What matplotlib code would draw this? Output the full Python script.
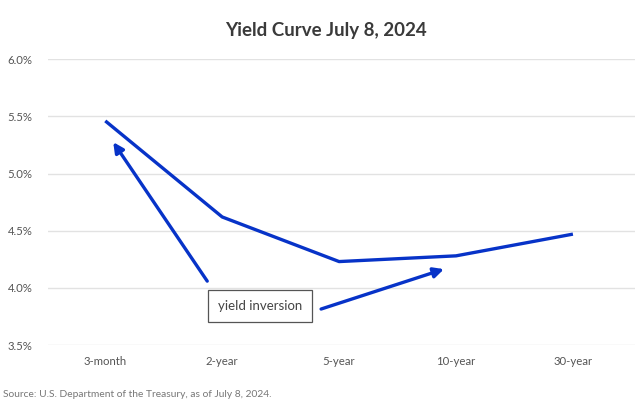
import matplotlib
matplotlib.use("Agg")
import matplotlib.pyplot as plt

categories = ["3-month", "2-year", "5-year", "10-year", "30-year"]
yields = [5.46, 4.62, 4.23, 4.28, 4.47]
y_ticks = [3.5, 4.0, 4.5, 5.0, 5.5, 6.0]
y_tick_labels = ["3.5%", "4.0%", "4.5%", "5.0%", "5.5%", "6.0%"]

plt.rcParams['font.family'] = ['Lato', 'DejaVu Sans']

fig = plt.figure(figsize=(6.4, 4.05), dpi=100)
ax = fig.add_axes([0.075, 0.148, 0.917, 0.706])

x = list(range(len(categories)))
blue = "#0733c8"
ax.plot(x, yields, color=blue, lw=2.4, solid_capstyle='butt', zorder=3, clip_on=False)

ax.set_xlim(-0.49, 4.53)
ax.set_ylim(3.5, 6.0)
ax.set_yticks(y_ticks)
ax.set_yticklabels(y_tick_labels)
ax.set_xticks(x)
ax.set_xticklabels(categories)
ax.grid(axis='y', color="#e2e2e2", lw=1.0)
ax.set_axisbelow(True)
for s in ax.spines.values():
    s.set_visible(False)
ax.tick_params(axis='both', length=0, colors="#555555", labelsize=8.2)
ax.tick_params(axis='y', pad=11)
ax.tick_params(axis='x', pad=8)

# annotation box
ax.text(1.325, 3.84, "yield inversion", ha='center', va='center', fontsize=9.5, color="#444444",
        bbox=dict(boxstyle='square,pad=0.75', fc='white', ec='#555555', lw=0.9), zorder=4)

# arrows
ax.annotate("", xy=(0.068, 5.274), xytext=(0.872, 4.059),
            arrowprops=dict(arrowstyle='-|>,head_length=0.6,head_width=0.3', color=blue, lw=2.4,
                            shrinkA=0, shrinkB=0))
ax.annotate("", xy=(2.897, 4.164), xytext=(1.846, 3.815),
            arrowprops=dict(arrowstyle='-|>,head_length=0.6,head_width=0.3', color=blue, lw=2.4,
                            shrinkA=0, shrinkB=0))

fig.text(0.51, 0.925, "Yield Curve July 8, 2024", ha='center', va='center', fontsize=13.5,
         fontweight='bold', color="#3a3a3a")
fig.text(0.005, 0.025, "Source: U.S. Department of the Treasury, as of July 8, 2024.", ha='left',
         va='center', fontsize=7.4, color="#777777")

fig.savefig("out.png", dpi=100)
